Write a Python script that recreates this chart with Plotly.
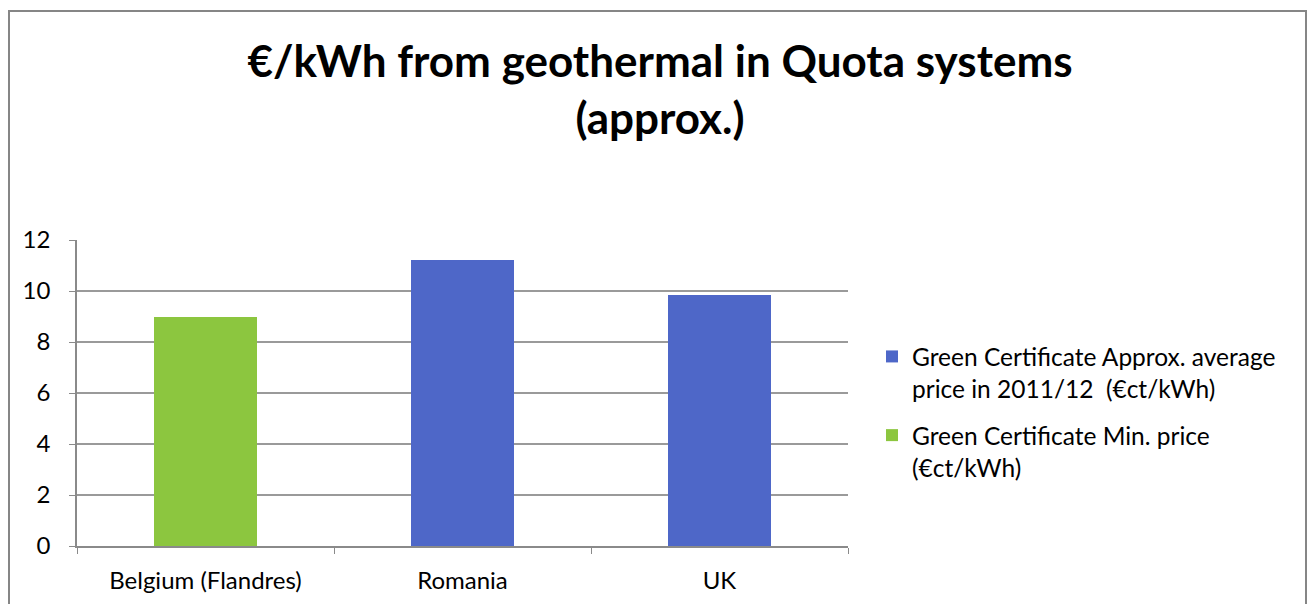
import plotly.graph_objects as go

categories = ["Belgium (Flandres)", "Romania", "UK"]
avg_price = [None, 11.2, 9.83]
min_price = [9.0, None, None]
series_names = ["Green Certificate Approx. average<br>price in 2011/12  (€ct/kWh)",
                "Green Certificate Min. price<br>(€ct/kWh)"]
y_ticks = [0, 2, 4, 6, 8, 10, 12]

FONT = "Lato, 'Open Sans', sans-serif"
fig = go.Figure()
fig.add_trace(go.Bar(x=categories, y=avg_price, name=series_names[0], legendgroup="a",
                     marker=dict(color="#4E67C8", line=dict(width=0)), width=0.4))
fig.add_trace(go.Bar(x=categories, y=min_price, name=series_names[1], legendgroup="b",
                     marker=dict(color="#8CC63F", line=dict(width=0)), width=0.4))

W, H = 1311, 604
L, R, T, B = 77, 848, 240, 546
pw, ph = R - L, B - T

def px(x):
    return (x - L) / pw

def py(y):
    return (B - y) / ph

fig.update_layout(
    width=W, height=H,
    margin=dict(l=L, r=W - R, t=T, b=H - B, autoexpand=False),
    barmode="stack",
    plot_bgcolor="white", paper_bgcolor="white",
    font=dict(family=FONT, size=24, color="#000000"),
    title=dict(text="<b>€/kWh from geothermal in Quota systems<br>(approx.)</b>",
               x=660 / W, xanchor="center", y=1 - 77 / H, yanchor="middle",
               font=dict(size=44, family=FONT, color="#000000")),
    legend=dict(x=px(872), xanchor="left", y=py(334), yanchor="top",
                font=dict(size=24.5), tracegroupgap=12, traceorder="grouped",
                itemwidth=30, valign="top"),
    xaxis=dict(showline=True, linecolor="#8a8a8a", linewidth=1.5,
               ticks="outside", tickson="boundaries", ticklen=6, tickcolor="#8a8a8a",
               showgrid=False, ticklabelstandoff=12),
    yaxis=dict(range=[0, 12], tickvals=y_ticks, showline=True, linecolor="#8a8a8a",
               linewidth=1.5, ticks="outside", ticklen=6, tickcolor="#8a8a8a",
               gridcolor="#9a9a9a", gridwidth=1.5, zeroline=False, ticklabelstandoff=14),
    bargap=0.6,
    shapes=[dict(type="rect", xref="paper", yref="paper",
                 x0=px(9), x1=px(1306), y0=py(700), y1=py(11),
                 line=dict(color="#868686", width=2), layer="below")],
)

fig.write_html("out.html", config={"displayModeBar": False},
               post_script="document.body.style.margin='0';")
